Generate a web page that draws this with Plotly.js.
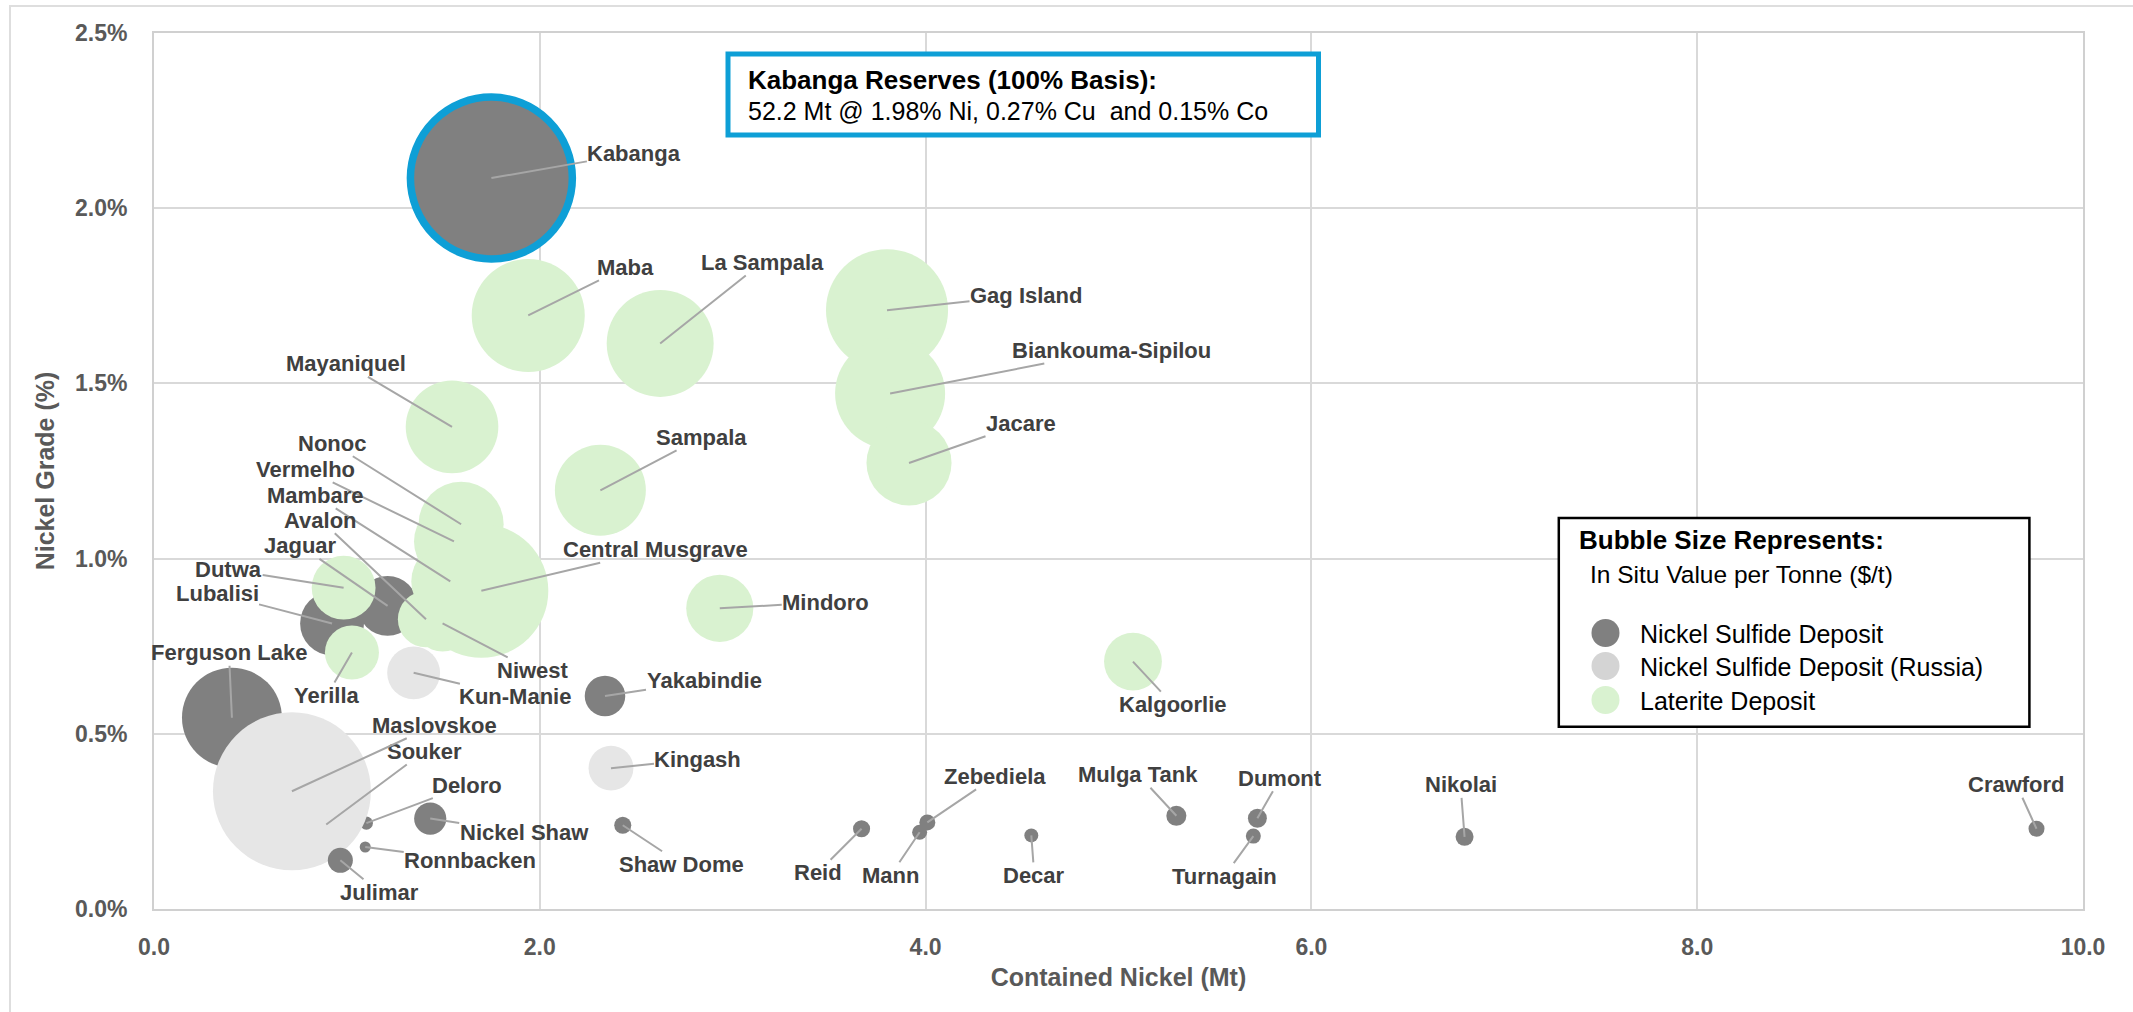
<!DOCTYPE html>
<html><head><meta charset="utf-8">
<script src="https://cdn.plot.ly/plotly-3.0.1.min.js"></script>
<style>html,body{margin:0;padding:0;background:#fff;}#chart{width:2133px;height:1012px;}</style>
</head><body><div id="chart"></div>
<script>
// ---------------- DATA ----------------
const typeNames = ['Nickel Sulfide Deposit', 'Nickel Sulfide Deposit (Russia)', 'Laterite Deposit'];

const deposits = ['Ferguson Lake','Souker','Deloro','Lubalisi','Jaguar','Kabanga','Nickel Shaw','Yakabindie','Shaw Dome','Reid','Mann','Zebediela','Decar','Mulga Tank','Dumont','Turnagain','Nikolai','Crawford',
  'Maslovskoe','Kun-Manie','Kingash',
  'Julimar','Ronnbacken',
  'Maba','La Sampala','Gag Island','Biankouma-Sipilou','Jacare','Mayaniquel','Sampala','Nonoc','Vermelho','Mambare','Avalon','Niwest','Central Musgrave','Mindoro','Kalgoorlie','Dutwa','Yerilla'];

// Contained nickel (Mt)
const containedNi = [0.404,0.893,1.101,0.923,1.211,1.749,1.432,2.338,2.430,3.668,3.969,4.009,4.548,5.300,5.720,5.699,6.794,9.759,
  0.715,1.346,2.369,
  0.966,1.095,
  1.940,2.624,3.800,3.816,3.914,1.545,2.314,1.592,1.555,1.536,1.410,1.496,1.697,2.933,5.075,0.983,1.026];

// Nickel grade (%)
const nickelGrade = [0.546,0.241,0.245,0.815,0.865,2.086,0.258,0.608,0.239,0.229,0.219,0.247,0.210,0.266,0.259,0.208,0.206,0.229,
  0.336,0.674,0.402,
  0.139,0.177,
  1.694,1.614,1.709,1.471,1.273,1.376,1.195,1.098,1.049,0.935,0.827,0.815,0.908,0.858,0.706,0.917,0.732];

// In situ value per tonne ($/t) - bubble size
const valuePerTonne = [164,1.6,2.8,67,59,431,17,27,4.8,4.8,3.7,4.2,3.2,6.6,5.9,3.7,5.3,4.2,
  410,46,33,
  10.3,2.0,
  210,188,245,199,119,141,136,119,105,100,52,52,295,74,55,67,48];

// Deposit type: index into typeNames
const depositType = [0,1,0,0,0,0,0,0,0,0,0,0,0,0,0,0,0,0,
  1,1,1,
  0,0,
  2,2,2,2,2,2,2,2,2,2,2,2,2,2,2,2,2];

const highlighted = 'Kabanga';
const calloutTitle = 'Kabanga Reserves (100% Basis):';
const calloutText = '52.2 Mt @ 1.98% Ni, 0.27% Cu\u00a0 and 0.15% Co';

// ---------------- LAYOUT / STYLE ----------------
// label offsets (px) from bubble centre to label centre
const labelDX = [-3,98,101,-115,-87,143,94,99,59,-44,-29,68,3,-38,23,-29,-4,-20,
  143,101,87,
  39,105,
  97,102,139,221,112,-106,101,-129,-148,-135,-105,90,174,106,40,-115,-25];
const labelDY = [-65,-73,-38,-30,-60,-25,14,-15,39,44,43,-46,40,-41,-40,40,-52,-44,
  -66,24,-9,
  32,14,
  -48,-81,-15,-43,-39,-63,-53,-81,-72,-86,-99,47,-41,-6,43,-18,43];

const FONT = '"Liberation Sans", Arial, sans-serif';
const typeColors = ['#808080', '#e6e6e6', '#d9f2d0'];
const swatchColors = ['#808080', '#d4d4d4', '#d9f2d0'];
const W = 2133, H = 1012;
const M = {l: 154, r: 50, t: 33, b: 103};
const PW = W - M.l - M.r, PH = H - M.t - M.b;
const px = x => (x - M.l) / PW;
const py = y => (H - M.b - y) / PH;
const C = 7.8; // diameter px per sqrt($/t)

const bubbles = {
  type: 'scatter', mode: 'markers',
  x: containedNi, y: nickelGrade, text: deposits,
  hoverinfo: 'text',
  showlegend: false,
  marker: {
    size: valuePerTonne,
    sizemode: 'area',
    sizeref: 2 / (C * C),
    color: depositType.map(t => typeColors[t]),
    opacity: 1,
    line: {
      width: deposits.map(n => n === highlighted ? 7.5 : 0),
      color: deposits.map(n => n === highlighted ? '#0e9fd6' : 'rgba(0,0,0,0)')
    }
  },
  cliponaxis: false
};

const annotations = deposits.map((name, i) => ({
  x: containedNi[i], y: nickelGrade[i], xref: 'x', yref: 'y',
  text: '<b>' + name + '</b>',
  showarrow: true, arrowhead: 0, arrowwidth: 2, arrowcolor: '#a6a6a6', standoff: 0,
  ax: labelDX[i], ay: labelDY[i], borderpad: 0,
  font: {family: FONT, size: 22, color: '#404040'}
}));

// callout box text
annotations.push({xref: 'paper', yref: 'paper', x: px(746), y: py(80), xanchor: 'left', yanchor: 'middle', showarrow: false,
  text: '<b>' + calloutTitle + '</b>', font: {family: FONT, size: 26, color: '#000000'}});
annotations.push({xref: 'paper', yref: 'paper', x: px(746), y: py(111), xanchor: 'left', yanchor: 'middle', showarrow: false,
  text: calloutText, font: {family: FONT, size: 25, color: '#000000'}});

// legend texts
annotations.push({xref: 'paper', yref: 'paper', x: px(1577), y: py(540), xanchor: 'left', yanchor: 'middle', showarrow: false,
  text: '<b>Bubble Size Represents:</b>', font: {family: FONT, size: 26, color: '#000000'}});
annotations.push({xref: 'paper', yref: 'paper', x: px(1588), y: py(574), xanchor: 'left', yanchor: 'middle', showarrow: false,
  text: 'In Situ Value per Tonne ($/t)', font: {family: FONT, size: 24.5, color: '#000000'}});
const legendRowY = [634, 667, 701];
typeNames.forEach((t, k) => {
  annotations.push({xref: 'paper', yref: 'paper', x: px(1638), y: py(legendRowY[k]), xanchor: 'left', yanchor: 'middle', showarrow: false,
    text: t, font: {family: FONT, size: 25, color: '#000000'}});
});

const shapes = [
  // outer chart border (left and top edges visible)
  {type: 'rect', xref: 'paper', yref: 'paper', x0: px(10), x1: px(2145), y0: py(1025), y1: py(6),
    line: {color: '#dedede', width: 2}, fillcolor: 'rgba(0,0,0,0)', layer: 'below'},
  // callout box
  {type: 'rect', xref: 'paper', yref: 'paper', x0: px(728), x1: px(1318.5), y0: py(135), y1: py(54),
    line: {color: '#0e9fd6', width: 5}, fillcolor: '#ffffff', layer: 'above'},
  // legend box
  {type: 'rect', xref: 'paper', yref: 'paper', x0: px(1558.8), x1: px(2029.4), y0: py(726.7), y1: py(518),
    line: {color: '#000000', width: 2.5}, fillcolor: '#ffffff', layer: 'above'}
];
typeNames.forEach((t, k) => {
  const cx = 1605.5, cy = legendRowY[k] - 1, r = 14;
  shapes.push({type: 'circle', xref: 'paper', yref: 'paper', x0: px(cx - r), x1: px(cx + r), y0: py(cy + r), y1: py(cy - r),
    line: {width: 0}, fillcolor: swatchColors[k], layer: 'above'});
});

const axisCommon = {
  showgrid: true, gridcolor: '#d9d9d9', gridwidth: 2,
  showline: true, linecolor: '#d0d0d0', linewidth: 2, mirror: true,
  zeroline: false, ticks: '', automargin: false,
  tickfont: {family: FONT, size: 23, color: '#595959', weight: 'bold'}
};

const layout = {
  width: W, height: H,
  margin: {l: M.l, r: M.r, t: M.t, b: M.b, pad: 0, autoexpand: false},
  paper_bgcolor: '#ffffff', plot_bgcolor: '#ffffff',
  showlegend: false,
  xaxis: Object.assign({}, axisCommon, {
    range: [0, 10], dtick: 2, tick0: 0, tickformat: '.1f', ticklabelstandoff: 16,
    title: {text: '<b>Contained Nickel (Mt)</b>', font: {family: FONT, size: 25, color: '#595959'}, standoff: 10}
  }),
  yaxis: Object.assign({}, axisCommon, {
    range: [0, 2.5], dtick: 0.5, tick0: 0, tickformat: '.1f', ticksuffix: '%', ticklabelstandoff: 20,
    title: {text: '<b>Nickel Grade (%)</b>', font: {family: FONT, size: 25, color: '#595959'}, standoff: 13}
  }),
  annotations: annotations,
  shapes: shapes,
  hovermode: 'closest'
};

Plotly.newPlot('chart', [bubbles], layout, {displayModeBar: false, staticPlot: true});
</script>
</body></html>
